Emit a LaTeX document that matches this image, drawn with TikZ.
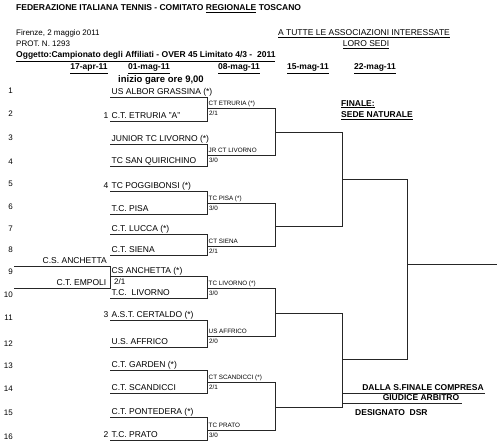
\documentclass[tikz,border=0pt]{standalone}
\usepackage{fontspec}
\setmainfont{Liberation Sans}
\usepackage{xcolor}
\usepackage{tikz}

\begin{document}
\begin{tikzpicture}[x=1pt, y=-1pt,
    head/.style={anchor=base west, inner sep=0pt, font=\fontsize{8}{10}\selectfont},
    headb/.style={anchor=base west, inner sep=0pt, font=\fontsize{8.5}{10}\selectfont\bfseries},
    date/.style={anchor=base, inner sep=0pt, font=\fontsize{8.5}{10}\selectfont\bfseries},
    num/.style={anchor=base east, inner sep=0pt, font=\fontsize{8}{10}\selectfont},
    team/.style={anchor=south west, inner xsep=1.5pt, inner ysep=0pt, text depth=2.2pt, font=\fontsize{8.5}{10}\selectfont},
    winner/.style={anchor=south west, inner xsep=1.5pt, inner ysep=0.8pt, text depth=1.2pt, font=\fontsize{6.3}{7}\selectfont},
    score/.style={anchor=north west, inner xsep=2pt, inner ysep=2.5pt, font=\fontsize{6.3}{7}\selectfont},
    note/.style={anchor=south, inner ysep=0pt, text depth=2.5pt, font=\fontsize{8.5}{10}\selectfont\bfseries},
    bline/.style={line width=0.7pt, black!85}]

    \useasboundingbox (0,0) rectangle (500,444);

    % Letter head
    \node[headb] (title) at (16,10.5) {FEDERAZIONE ITALIANA TENNIS - COMITATO \underline{REGIONALE} TOSCANO};
    \node[head] (place) at (16,36) {Firenze, 2 maggio 2011};
    \node[head] (prot) at (16,46.5) {PROT. N. 1293};
    \node[headb] (subject) at (16,57.5) {\underline{Oggetto:Campionato degli Affiliati - OVER 45 Limitato 4/3 -\ \ 2011}};
    \node[head, anchor=base, font=\fontsize{8.5}{10}\selectfont] (to) at (364,36) {\underline{A TUTTE LE ASSOCIAZIONI INTERESSATE}};
    \node[head, anchor=base, font=\fontsize{8.5}{10}\selectfont] (seats) at (366,46.5) {\underline{LORO SEDI}};

    % Round dates
    \node[date] (d1) at (89,70) {\underline{17-apr-11}};
    \node[date] (d2) at (149,70) {\underline{01-mag-11}};
    \node[date] (d3) at (239,70) {\underline{08-mag-11}};
    \node[date] (d4) at (308,70) {\underline{15-mag-11}};
    \node[date] (d5) at (375,70) {\underline{22-mag-11}};
    \node[date, font=\fontsize{9.5}{11}\selectfont\bfseries] (start) at (161,82) {inizio gare ore 9,00};

    % Draw numbers
    \node[num] (n1) at (13,93) {1};
    \node[num] (n2) at (13,116) {2};
    \node[num] (n3) at (13,140) {3};
    \node[num] (n4) at (13,164) {4};
    \node[num] (n5) at (13,186) {5};
    \node[num] (n6) at (13,209) {6};
    \node[num] (n7) at (13,231) {7};
    \node[num] (n8) at (13,252) {8};
    \node[num] (n9) at (13,274) {9};
    \node[num] (n10) at (13,297) {10};
    \node[num] (n11) at (13,320) {11};
    \node[num] (n12) at (13,346) {12};
    \node[num] (n13) at (13,368) {13};
    \node[num] (n14) at (13,391) {14};
    \node[num] (n15) at (13,415) {15};
    \node[num] (n16) at (13,439) {16};

    % Teams
    \node[team] (t1) at (110,97) {US ALBOR GRASSINA (*)};
    \node[team] (t2) at (110,121) {C.T. ETRURIA "A"};
    \node[team] (t3) at (110,144) {JUNIOR TC LIVORNO (*)};
    \node[team] (t4) at (110,166) {TC SAN QUIRICHINO};
    \node[team] (t5) at (110,191) {TC POGGIBONSI (*)};
    \node[team] (t6) at (110,214) {T.C. PISA};
    \node[team] (t7) at (110,234) {C.T. LUCCA (*)};
    \node[team] (t8) at (110,255) {C.T. SIENA};
    \node[team] (t9) at (110,276) {CS ANCHETTA (*)};
    \node[team] (t10) at (110,298) {T.C.\ \ LIVORNO};
    \node[team] (t11) at (110,320) {A.S.T. CERTALDO (*)};
    \node[team] (t12) at (110,347) {U.S. AFFRICO};
    \node[team] (t13) at (110,370) {C.T. GARDEN (*)};
    \node[team] (t14) at (110,393) {C.T. SCANDICCI};
    \node[team] (t15) at (110,417) {C.T. PONTEDERA (*)};
    \node[team] (t16) at (110,440) {T.C. PRATO};

    % Seeds
    \node[team, anchor=south east] (k1) at (t2.south west) {1};
    \node[team, anchor=south east] (k4) at (t5.south west) {4};
    \node[team, anchor=south east] (k3) at (t11.south west) {3};
    \node[team, anchor=south east] (k2) at (t16.south west) {2};

    % Preliminary match
    \node[team, anchor=south east, inner xsep=3pt] (p1) at (110,266) {C.S. ANCHETTA};
    \node[team, anchor=south east, inner xsep=3.5pt] (p2) at (110,288) {C.T. EMPOLI};
    \node[head, font=\fontsize{8}{10}\selectfont] (ps) at (114,284.5) {2/1};
    \coordinate (pre) at (14,266);
    \draw[bline] (pre) -- (p1.south east) -- (p2.south east) -- (p2.south east -| pre);

    % Second round winners and scores
    \node[winner] (w1) at (207,108) {CT ETRURIA (*)};
    \node[score] (sc1) at (207,108) {2/1};
    \node[winner] (w2) at (207,155) {JR CT LIVORNO};
    \node[score] (sc2) at (207,155) {3/0};
    \node[winner] (w3) at (207,203) {TC PISA (*)};
    \node[score] (sc3) at (207,203) {3/0};
    \node[winner] (w4) at (207,246) {CT SIENA};
    \node[score] (sc4) at (207,246) {2/1};
    \node[winner] (w5) at (207,288) {TC LIVORNO (*)};
    \node[score] (sc5) at (207,288) {3/0};
    \node[winner] (w6) at (207,336) {US AFFRICO};
    \node[score] (sc6) at (207,336) {2/0};
    \node[winner] (w7) at (207,382) {CT SCANDICCI (*)};
    \node[score] (sc7) at (207,382) {2/1};
    \node[winner] (w8) at (207,430) {TC PRATO};
    \node[score] (sc8) at (207,430) {3/0};

    % Later rounds
    \coordinate (q1) at (275,132);
    \coordinate (q2) at (275,226);
    \coordinate (q3) at (275,313);
    \coordinate (q4) at (275,407);
    \coordinate (s1) at (342,179);
    \coordinate (s2) at (342,359);
    \coordinate (fin) at (407,264);
    \coordinate (win) at (497,264);

    % Brackets
    \draw[bline] (t1.south west) -- (t1.south west -| w1.south west) |- (t2.south west);
    \draw[bline] (t3.south west) -- (t3.south west -| w2.south west) |- (t4.south west);
    \draw[bline] (t5.south west) -- (t5.south west -| w3.south west) |- (t6.south west);
    \draw[bline] (t7.south west) -- (t7.south west -| w4.south west) |- (t8.south west);
    \draw[bline] (t9.south west) -- (t9.south west -| w5.south west) |- (t10.south west);
    \draw[bline] (t11.south west) -- (t11.south west -| w6.south west) |- (t12.south west);
    \draw[bline] (t13.south west) -- (t13.south west -| w7.south west) |- (t14.south west);
    \draw[bline] (t15.south west) -- (t15.south west -| w8.south west) |- (t16.south west);

    \draw[bline] (w1.south west) -- (w1.south west -| q1) |- (w2.south west);
    \draw[bline] (w3.south west) -- (w3.south west -| q2) |- (w4.south west);
    \draw[bline] (w5.south west) -- (w5.south west -| q3) |- (w6.south west);
    \draw[bline] (w7.south west) -- (w7.south west -| q4) |- (w8.south west);

    \draw[bline] (q1) -- (q1 -| s1) |- (q2);
    \draw[bline] (q3) -- (q3 -| s2) |- (q4);
    \draw[bline] (s1) -- (s1 -| fin) |- (s2);
    \draw[bline] (fin) -- (win);

    % Notes
    \node[headb] (final) at (341,106) {\underline{FINALE:}};
    \node[headb] (venue) at (341,117.5) {\underline{SEDE NATURALE}};
    \node[note, inner xsep=1pt] (semi) at (423,393) {DALLA S.FINALE COMPRESA};
    \node[note, inner xsep=2.5pt] (judge) at (421,403) {GIUDICE ARBITRO};
    \node[headb] (desig) at (355,415) {DESIGNATO\ \ DSR};
    \draw[bline] (semi.south -| s2) -- (semi.south east);
    \draw[bline] (judge.south -| s2) -- (judge.south east);

\end{tikzpicture}
\end{document}
